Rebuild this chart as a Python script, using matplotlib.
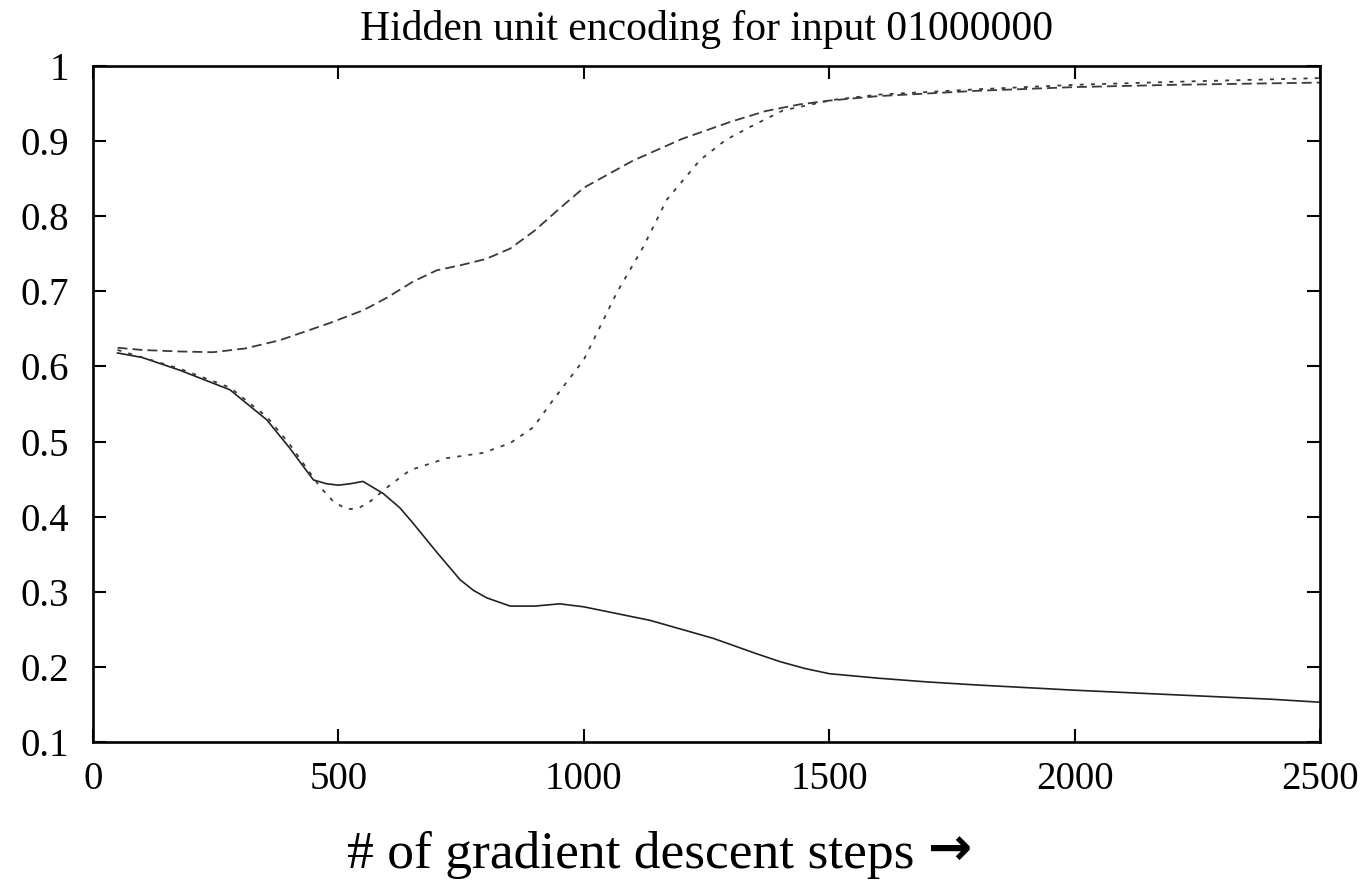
import numpy as np
import matplotlib
matplotlib.use("Agg")
import matplotlib.pyplot as plt

plt.rcParams['font.family'] = ['Liberation Serif', 'DejaVu Serif']

# curve for first hidden unit (solid)
steps_a = [50, 100, 177, 279, 354, 400, 449, 475, 500, 525, 550, 591, 625, 650,
           700, 748, 775, 802, 850, 900, 951, 1000, 1135, 1264, 1350, 1400, 1450,
           1500, 1600, 1700, 1800, 2000, 2200, 2400, 2500]
unit_a = [0.618, 0.612, 0.595, 0.569, 0.529, 0.492, 0.449, 0.444, 0.442, 0.444,
          0.447, 0.431, 0.412, 0.393, 0.353, 0.316, 0.302, 0.292, 0.281, 0.281,
          0.284, 0.280, 0.262, 0.238, 0.218, 0.207, 0.198, 0.191, 0.185, 0.180,
          0.176, 0.169, 0.163, 0.157, 0.153]

# second hidden unit (long dashes)
steps_b = [50, 100, 175, 245, 310, 381, 483, 551, 600, 652, 700, 750, 800, 850,
           900, 950, 1000, 1100, 1200, 1300, 1370, 1440, 1500, 1600, 1800, 2000,
           2200, 2500]
unit_b = [0.625, 0.622, 0.620, 0.619, 0.624, 0.635, 0.658, 0.675, 0.692, 0.713,
          0.728, 0.735, 0.743, 0.757, 0.781, 0.810, 0.838, 0.874, 0.903, 0.926,
          0.940, 0.949, 0.954, 0.960, 0.967, 0.972, 0.975, 0.978]

# third hidden unit (short dashes)
steps_c = [50, 177, 279, 354, 400, 462, 490, 517, 540, 564, 605, 646, 721, 795,
           850, 897, 937, 1000, 1067, 1121, 1169, 1237, 1290, 1339, 1406, 1508,
           1600, 1800, 2000, 2200, 2500]
unit_c = [0.622, 0.597, 0.572, 0.533, 0.497, 0.440, 0.420, 0.410, 0.411, 0.420,
          0.442, 0.462, 0.478, 0.485, 0.498, 0.519, 0.555, 0.609, 0.698, 0.759,
          0.822, 0.875, 0.902, 0.919, 0.941, 0.955, 0.962, 0.969, 0.975, 0.979,
          0.984]

xticks = [0, 500, 1000, 1500, 2000, 2500]
yticks = [0.1, 0.2, 0.3, 0.4, 0.5, 0.6, 0.7, 0.8, 0.9, 1.0]
ylabels = ['0.1', '0.2', '0.3', '0.4', '0.5', '0.6', '0.7', '0.8', '0.9', '1']

fig = plt.figure(figsize=(13.72, 8.82), dpi=100)
ax = fig.add_axes([0.0678, 0.1587, 0.8943, 0.7664])

ax.plot(steps_a, unit_a, color='#222222', lw=1.2, ls='-')
ax.plot(steps_b, unit_b, color='#3a3a3a', lw=1.3, ls=(0, (5.5, 2.8)))
ax.plot(steps_c, unit_c, color='#3a3a3a', lw=1.3, ls=(0, (2.2, 4)))

ax.set_xlim(0, 2500)
ax.set_ylim(0.1, 1.0)
ax.set_xticks(xticks)
ax.set_yticks(yticks)
ax.set_yticklabels(ylabels)
ax.tick_params(direction='in', length=9.5, width=1.5, labelsize=28,
               top=True, right=True)
ax.tick_params(axis='y', pad=17)
ax.tick_params(axis='x', pad=14)
for s in ax.spines.values():
    s.set_linewidth(1.9)

ax.set_title('Hidden unit encoding for input 01000000', fontsize=30, pad=19)

fig.text(347 / 1372, 0.031, '# of gradient descent steps', fontsize=38.5,
         ha='left', va='center')
fig.text(928 / 1372, 0.036, '\u2192', fontsize=38, ha='left', va='center',
         family='DejaVu Sans', fontweight='bold')

fig.savefig('out.png', dpi=100)
